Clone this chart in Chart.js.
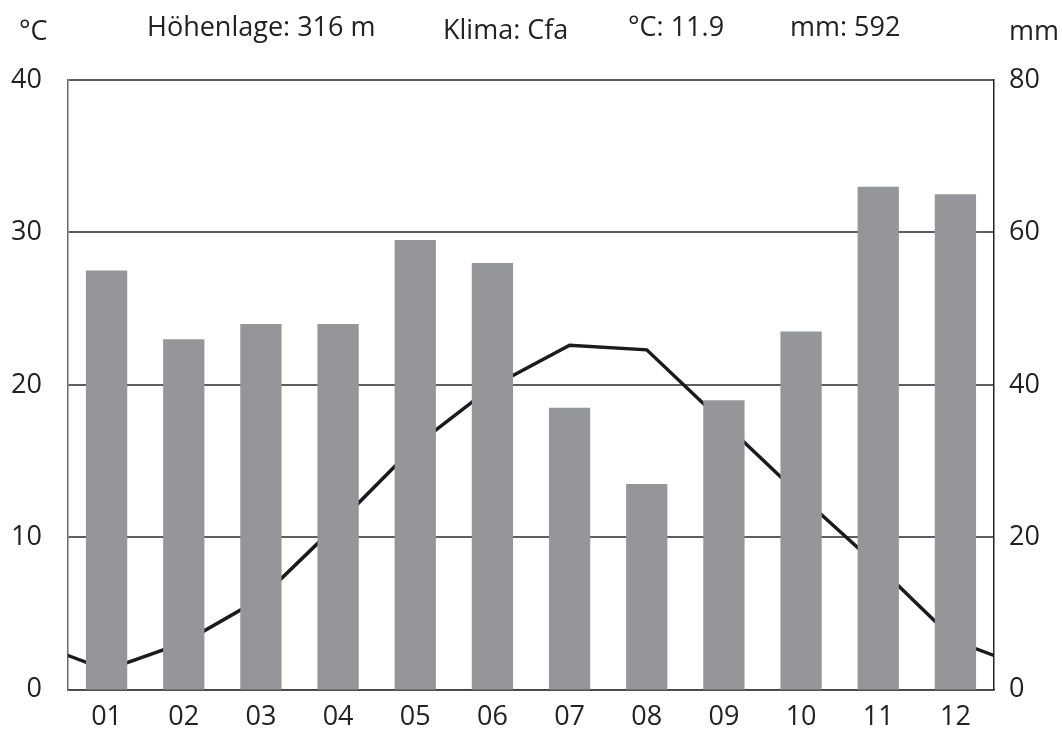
<!DOCTYPE html>
<html lang="de">
<head>
    <meta charset="UTF-8">
    <title>Klimadiagramm</title>
    <style>
        body { margin: 0; background: #fff; }
        #wrap { width: 1062px; height: 732px; position: relative; }
    </style>
</head>
<body>
    <div id="wrap">
        <canvas id="klimaChart"></canvas>
    </div>
    <script src="https://cdn.jsdelivr.net/npm/chart.js"></script>
    <script>
        // values
        const months = ['01', '02', '03', '04', '05', '06', '07', '08', '09', '10', '11', '12'];
        const temperature = [1.3, 3.1, 6.0, 10.9, 16.0, 19.9, 22.6, 22.3, 17.5, 12.7, 8.1, 3.2];
        const precipitation = [55, 46, 48, 48, 59, 56, 37, 27, 38, 47, 66, 65];
        const tempTicks = [0, 10, 20, 30, 40];
        const rainTicks = [0, 20, 40, 60, 80];
        const elevation = 'Höhenlage: 316 m';
        const climate = 'Klima: Cfa';
        const meanTemp = '°C: 11.9';
        const totalRain = 'mm: 592';

        const font = '"Open Sans", "DejaVu Sans", sans-serif';
        const textColor = '#222';

        // line wraps round the year: Dec before Jan, Jan after Dec, clipped at the frame
        const tempLine = [{ x: 0, y: temperature[11] }]
            .concat(temperature.map((t, i) => ({ x: i + 1, y: t })))
            .concat([{ x: 13, y: temperature[0] }]);

        const header = {
            id: 'header',
            afterDraw(chart) {
                const ctx = chart.ctx;
                ctx.save();
                ctx.font = '27px ' + font;
                ctx.fillStyle = textColor;
                ctx.textBaseline = 'middle';
                ctx.textAlign = 'left';
                ctx.fillText('°C', 19, 32);
                ctx.fillText(elevation, 147, 28);
                ctx.fillText(climate, 443, 31);
                ctx.fillText(meanTemp, 628, 28);
                ctx.fillText(totalRain, 790, 28);
                ctx.fillText('mm', 1009, 32);
                ctx.restore();
            }
        };

        new Chart(document.getElementById('klimaChart'), {
            type: 'bar',
            data: {
                labels: months,
                datasets: [
                    {
                        type: 'bar',
                        label: 'mm',
                        data: precipitation,
                        yAxisID: 'y2',
                        xAxisID: 'x',
                        backgroundColor: '#959699',
                        borderWidth: 0,
                        grouped: false,
                        categoryPercentage: 1,
                        barPercentage: 0.535,
                        order: 1
                    },
                    {
                        type: 'line',
                        label: '°C',
                        data: tempLine,
                        yAxisID: 'y',
                        xAxisID: 'xl',
                        borderColor: '#1b1b1b',
                        borderWidth: 3.5,
                        pointRadius: 0,
                        tension: 0,
                        clip: 0,
                        order: 2
                    }
                ]
            },
            options: {
                responsive: true,
                maintainAspectRatio: false,
                animation: false,
                layout: { padding: { top: 80, left: 0, right: 0, bottom: 0 } },
                plugins: {
                    legend: { display: false },
                    tooltip: { enabled: false }
                },
                scales: {
                    x: {
                        type: 'category',
                        offset: true,
                        grid: { display: false, drawTicks: false },
                        border: { display: true, color: '#444', width: 1.5 },
                        ticks: {
                            color: textColor,
                            font: { family: font, size: 27 },
                            padding: 11,
                            maxRotation: 0
                        },
                        afterFit: s => { s.height = 36; }
                    },
                    xl: {
                        type: 'linear',
                        display: false,
                        offset: false,
                        min: 0.5,
                        max: 12.5
                    },
                    y: {
                        position: 'left',
                        min: 0,
                        max: 40,
                        afterBuildTicks: s => { s.ticks = tempTicks.map(v => ({ value: v })); },
                        grid: { color: '#5e5e5e', lineWidth: 2, drawTicks: false },
                        border: { display: true, color: '#6a6a6a', width: 1.5 },
                        ticks: {
                            color: textColor,
                            font: { family: font, size: 27 },
                            padding: 26
                        },
                        afterFit: s => { s.width = 68; }
                    },
                    y2: {
                        position: 'right',
                        min: 0,
                        max: 80,
                        afterBuildTicks: s => { s.ticks = rainTicks.map(v => ({ value: v })); },
                        grid: { display: false, drawTicks: false },
                        border: { display: true, color: '#222', width: 1.5 },
                        ticks: {
                            color: textColor,
                            font: { family: font, size: 27 },
                            padding: 15
                        },
                        afterFit: s => { s.width = 68; }
                    }
                }
            },
            plugins: [header]
        });
    </script>
</body>
</html>
